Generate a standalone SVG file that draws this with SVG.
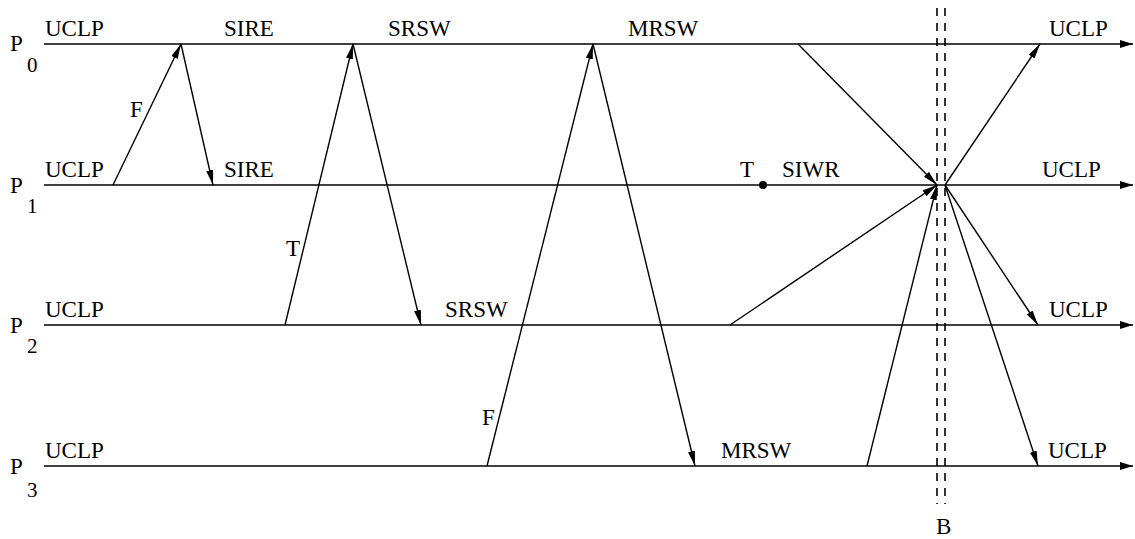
<svg xmlns="http://www.w3.org/2000/svg" width="1135" height="539" viewBox="0 0 1135 539">
  <style>
    text { font-family: "Liberation Serif", "Times New Roman", serif; fill: #000; }
    .lbl { font-size: 23px; }
    .sub { font-size: 21px; }
    .axis { stroke: #000; stroke-width: 1.6; fill: none; }
    .msg { stroke: #000; stroke-width: 1.4; fill: none; marker-end: url(#head); }
    .cut { stroke: #000; stroke-width: 1.6; fill: none; stroke-dasharray: 8 7; }
  </style>
  <defs>
    <marker id="head" markerUnits="userSpaceOnUse" markerWidth="16" markerHeight="8" refX="15" refY="3.5" orient="auto">
      <path d="M0,0 L15,3.5 L0,7 z" fill="#000"/>
    </marker>
    <marker id="axisHead" markerUnits="userSpaceOnUse" markerWidth="14" markerHeight="9" refX="13" refY="4" orient="auto">
      <path d="M0,0 L13,4 L0,8 z" fill="#000"/>
    </marker>
  </defs>
  <rect width="1135" height="539" fill="#fff"/>

  <!-- process time lines -->
  <g id="p0">
    <line class="axis" x1="44" y1="44" x2="1133" y2="44" marker-end="url(#axisHead)"/>
    <text class="lbl" x="10" y="51">P</text>
    <text class="sub" x="27" y="72">0</text>
    <text class="lbl" x="45" y="36">UCLP</text>
    <text class="lbl" x="224" y="36">SIRE</text>
    <text class="lbl" x="388" y="36">SRSW</text>
    <text class="lbl" x="628" y="36">MRSW</text>
    <text class="lbl" x="1049" y="36">UCLP</text>
  </g>
  <g id="p1">
    <line class="axis" x1="44" y1="185" x2="1133" y2="185" marker-end="url(#axisHead)"/>
    <text class="lbl" x="10" y="193">P</text>
    <text class="sub" x="27" y="213">1</text>
    <text class="lbl" x="45" y="177">UCLP</text>
    <text class="lbl" x="224" y="177">SIRE</text>
    <text class="lbl" x="740" y="177">T</text>
    <circle cx="763" cy="185" r="4" fill="#000"/>
    <text class="lbl" x="782" y="177">SIWR</text>
    <text class="lbl" x="1042" y="177">UCLP</text>
  </g>
  <g id="p2">
    <line class="axis" x1="44" y1="325" x2="1133" y2="325" marker-end="url(#axisHead)"/>
    <text class="lbl" x="10" y="333">P</text>
    <text class="sub" x="27" y="353">2</text>
    <text class="lbl" x="45" y="317">UCLP</text>
    <text class="lbl" x="445" y="317">SRSW</text>
    <text class="lbl" x="1049" y="317">UCLP</text>
  </g>
  <g id="p3">
    <line class="axis" x1="44" y1="466" x2="1133" y2="466" marker-end="url(#axisHead)"/>
    <text class="lbl" x="10" y="474">P</text>
    <text class="sub" x="27" y="497">3</text>
    <text class="lbl" x="45" y="458">UCLP</text>
    <text class="lbl" x="721" y="458">MRSW</text>
    <text class="lbl" x="1048" y="458">UCLP</text>
  </g>

  <!-- consistent cut -->
  <g id="barrier">
    <line class="cut" x1="937" y1="8" x2="937" y2="504"/>
    <line class="cut" x1="945" y1="8" x2="945" y2="504"/>
    <text class="lbl" x="936" y="534">B</text>
  </g>

  <!-- messages -->
  <g id="messages">
    <line class="msg" x1="113" y1="185" x2="181" y2="44"/>
    <line class="msg" x1="181" y1="44" x2="213" y2="185"/>
    <line class="msg" x1="285" y1="325" x2="353" y2="44"/>
    <line class="msg" x1="353" y1="44" x2="421" y2="325"/>
    <line class="msg" x1="487" y1="466" x2="593" y2="44"/>
    <line class="msg" x1="593" y1="44" x2="695" y2="466"/>
    <line class="msg" x1="798" y1="44" x2="937" y2="185"/>
    <line class="msg" x1="730" y1="325" x2="937" y2="185"/>
    <line class="msg" x1="867" y1="466" x2="937" y2="185"/>
    <line class="msg" x1="945" y1="185" x2="1040" y2="44"/>
    <line class="msg" x1="945" y1="185" x2="1038" y2="325"/>
    <line class="msg" x1="945" y1="185" x2="1038" y2="466"/>
    <text class="lbl" x="130" y="117">F</text>
    <text class="lbl" x="286" y="256">T</text>
    <text class="lbl" x="482" y="425">F</text>
  </g>
</svg>
